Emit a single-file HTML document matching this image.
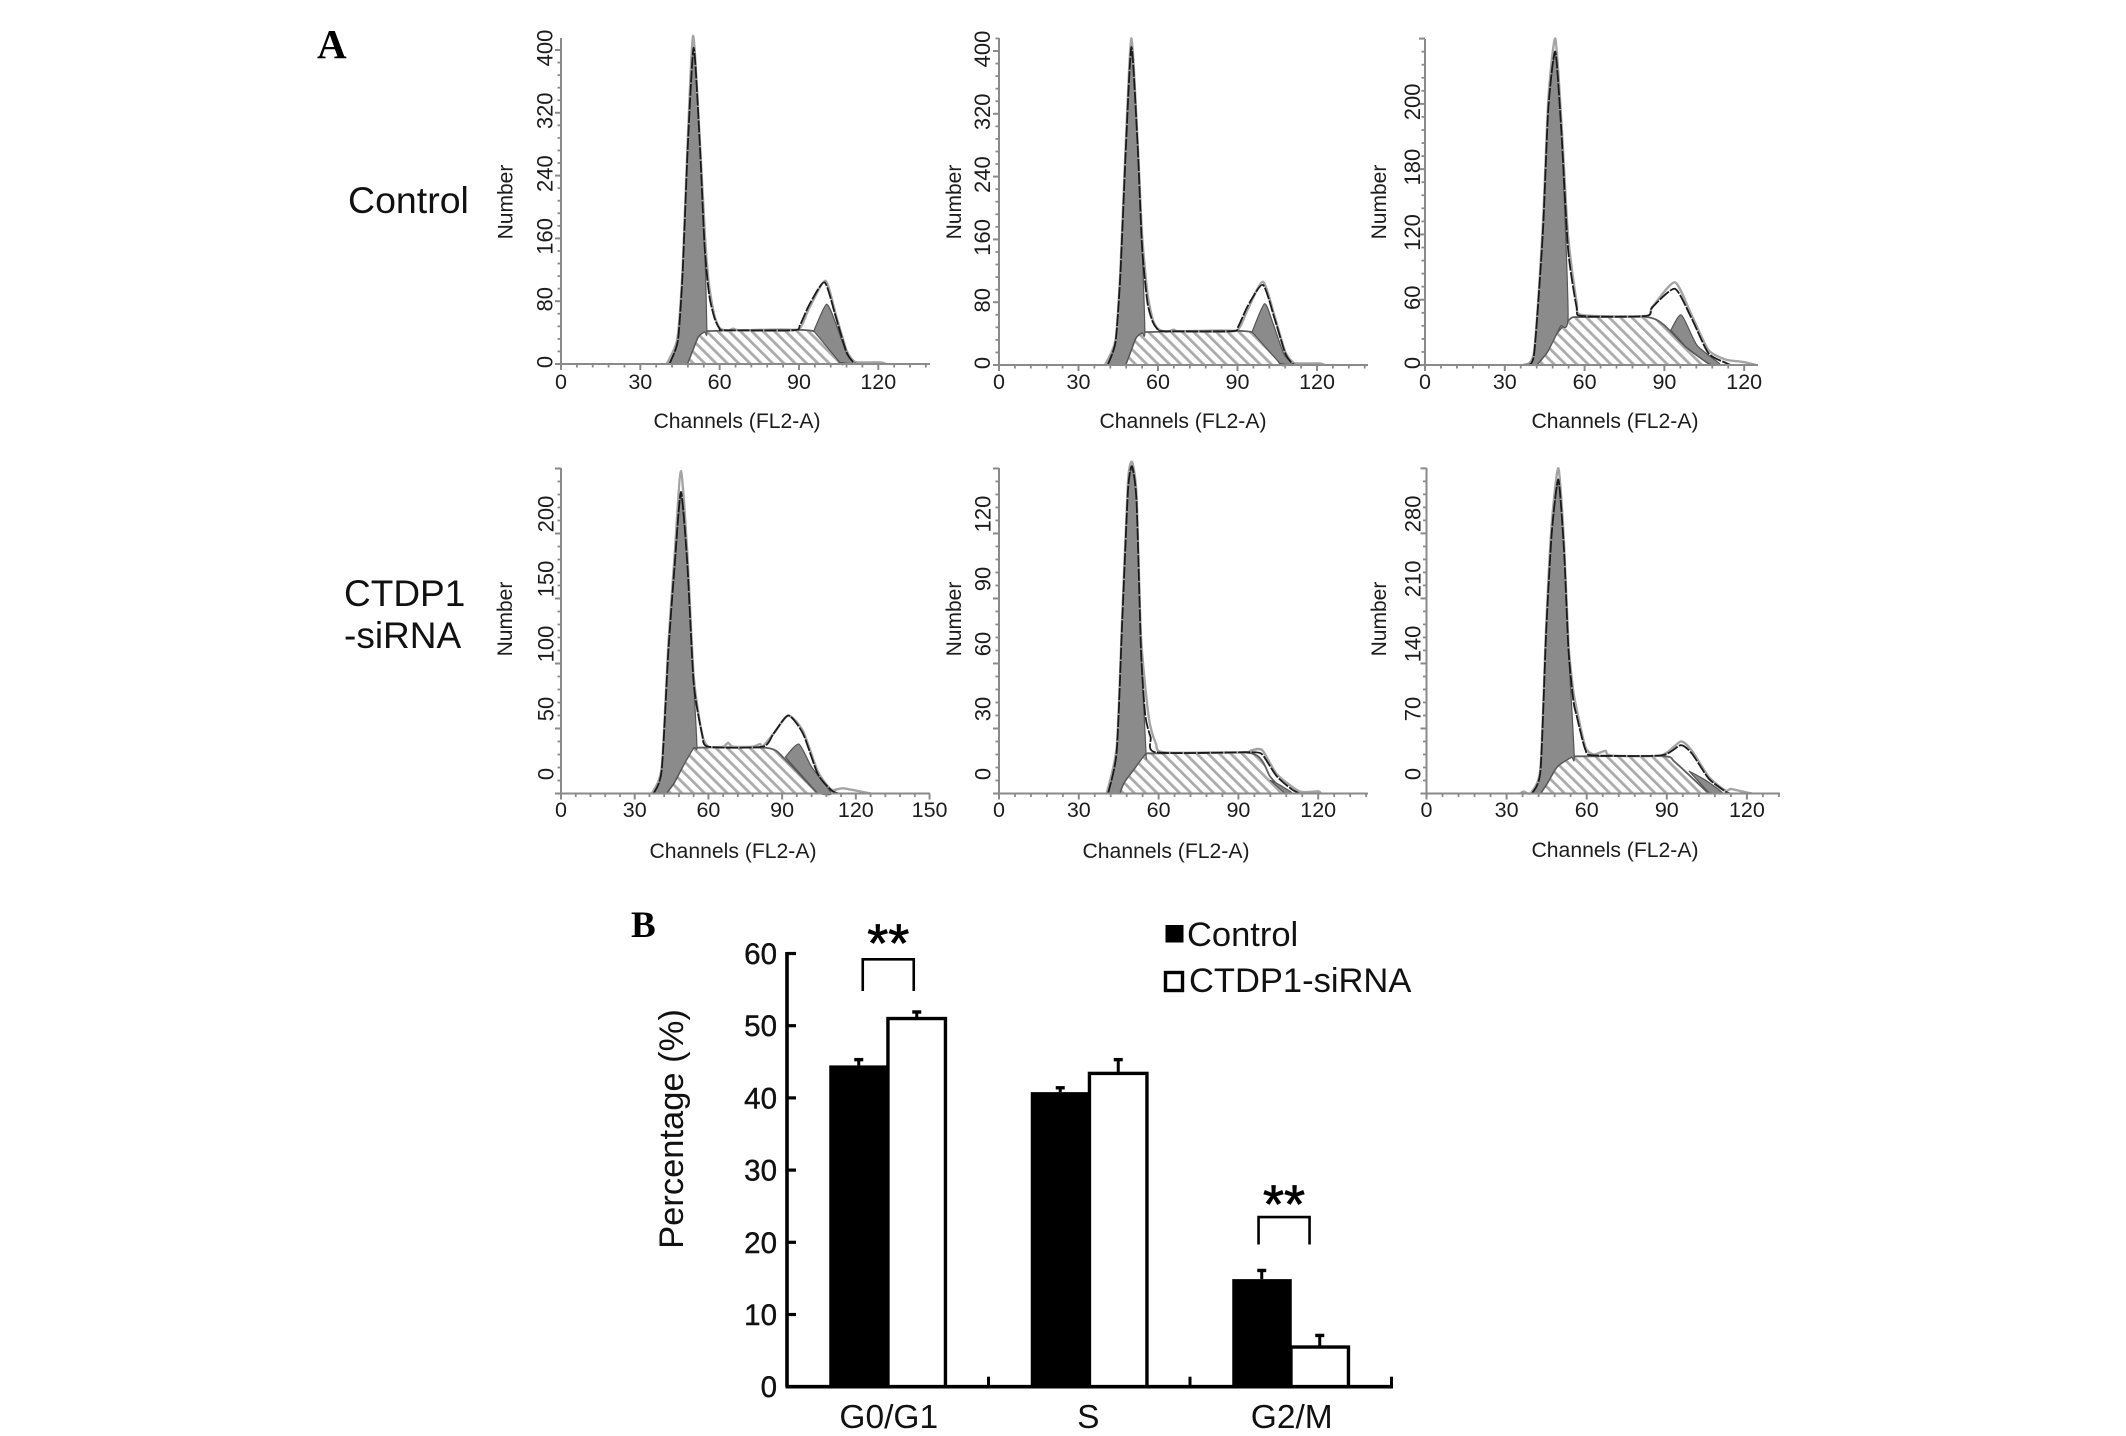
<!DOCTYPE html>
<html lang="en">
<head>
<meta charset="utf-8">
<title>Cell cycle histograms and phase percentages</title>
<style>
html,body{margin:0;padding:0;background:#fff;}
body{width:2126px;height:1436px;overflow:hidden;}
svg{display:block;font-family:"Liberation Sans",Arial,sans-serif;}
</style>
</head>
<body>
<svg id="figure" xmlns="http://www.w3.org/2000/svg" width="2126" height="1436" viewBox="0 0 2126 1436">
<defs>
<pattern id="hatch" patternUnits="userSpaceOnUse" width="8" height="8" patternTransform="rotate(-45)">
<rect width="8" height="8" fill="#fff"/>
<rect x="0" y="0" width="2.8" height="8" fill="#ababab"/>
</pattern>
</defs>
<rect width="2126" height="1436" fill="#fff"/>
<text x="317" y="58" font-family="'Liberation Serif',serif" font-weight="700" font-size="41" fill="#000">A</text>
<text x="348" y="213" font-size="37.5" fill="#111">Control</text>
<text x="344" y="606" font-size="37" fill="#111">CTDP1</text>
<text x="344" y="648" font-size="37" fill="#111">-siRNA</text>
<text x="631" y="937" font-family="'Liberation Serif',serif" font-weight="700" font-size="37" fill="#000">B</text>
<g id="histograms"></g>
<g id="bars"></g>
</svg>
<script>
// ---------- Panel A data: [channel, count] ----------
const p1XTicks = [0, 30, 60, 90, 120];
const p1YTicks = [0, 80, 160, 240, 320, 400];
const p1YLabels = ['0', '80', '160', '240', '320', '400'];
const p1G1 = [[41,0],[44.2,30],[46,115],[48,280],[50.2,403],[52.5,280],[54.3,153],[55.2,42],[54.3,41],[51.8,34],[48,2],[47,0]];
const p1S = [[47,0],[48,2],[51.8,34],[54.3,41],[56,42],[95.3,42],[105.4,2],[107,0]];
const p1G2 = [[95.6,42],[100.4,76],[104,51],[108,13],[110.5,1],[105.4,2]];
const p1Fit = [[41,0],[44.2,30],[46,115],[48,280],[50.2,403],[52.5,280],[54.3,150],[56,89],[58,59],[60,45],[62,43],[88,43],[90.3,49],[94,76],[99.7,104],[104,59],[108,15],[111,1],[114,0]];
const p1Hist = [[40,0],[44,32],[46,120],[48,290],[50,418],[52.5,285],[54.5,160],[56,100],[58,62],[60,46],[63,42],[65,45],[68,43],[88,43],[91,49],[94,72],[100,106],[104,62],[108,17],[111,3],[114,2],[121,2],[123,0]];

const p2XTicks = [0, 30, 60, 90, 120];
const p2YTicks = [0, 80, 160, 240, 320, 400];
const p2YLabels = ['0', '80', '160', '240', '320', '400'];
const p2G1 = [[41,0],[44,30],[45.8,115],[48,285],[50,405],[52.3,280],[54,150],[55,42],[54,41],[51.6,34],[48,2],[47,0]];
const p2S = [[47,0],[48,2],[51.6,34],[54,41],[56,42],[95.3,42],[106,2],[107.5,0]];
const p2G2 = [[95.5,42],[100.2,78],[103.5,52],[107.5,14],[110.8,1],[106,2]];
const p2Fit = [[41,0],[44,30],[45.8,115],[48,285],[50,405],[52.3,280],[54,150],[56,80],[58,55],[60,45],[62,43],[88,43],[90.3,49],[94,76],[99.6,102],[104,59],[108,15],[111,1],[114,0]];
const p2Hist = [[40,0],[44,32],[45.8,120],[48,295],[50,416],[52.3,285],[54,165],[56,92],[58,58],[60,46],[63,42],[66,45],[68,43],[88,43],[91,49],[94,72],[99.6,106],[104,62],[108,17],[111,3],[114,2],[121,2],[123,0]];

const p3XTicks = [0, 30, 60, 90, 120];
const p3YTicks = [0, 60, 120, 180, 240];
const p3YLabels = ['0', '60', '120', '180', '200'];
const p3G1 = [[38,0],[41,10],[44.3,121],[46.4,237],[49,286],[51.3,213],[53.8,46],[51,36],[49.6,29],[46,12],[42,0]];
const p3S = [[42,0],[46,12],[49.6,29],[54.9,43],[59,44],[83.3,44],[89.7,37],[98,16.8],[106.5,1.5],[108,0]];
const p3G2 = [[92.4,32],[96.4,46],[102.3,18],[110.8,1],[106.5,1.5],[98,16.8]];
const p3Fit = [[38,0],[41,10],[44.3,121],[46.4,237],[49,288],[51.3,213],[53.8,106],[57,53],[59,45],[83,45],[85.4,53],[93.9,70],[100,44],[106.5,11],[113,2],[115,0]];
const p3Hist = [[37,0],[41,12],[44.3,128],[46.4,245],[49,300],[51.3,222],[53.8,118],[57,58],[59,46],[83,45],[85.4,53],[93.9,76],[100,47],[106.5,14],[113,5],[119,3],[124.5,0]];

const p4XTicks = [0, 30, 60, 90, 120, 150];
const p4YTicks = [0, 50, 100, 150, 200];
const p4YLabels = ['0', '50', '100', '150', '200'];
const p4G1 = [[37.7,0],[41,18],[43.7,110],[46.2,174],[48.8,229],[51.4,177],[54,85],[55.3,36],[54,35],[48.8,18],[46,8],[42.8,0]];
const p4S = [[42.8,0],[46,8],[48.8,18],[52,30],[54,35],[84,35],[90.8,27],[104.5,0]];
const p4G2 = [[91.3,28],[96.8,38],[102,20.5],[110,0],[104.5,0]];
const p4Fit = [[37.7,0],[41,18],[43.7,110],[46.2,174],[48.8,232],[51.4,177],[54,85],[57.4,46],[60,36],[82,36],[86.5,46],[92.5,60],[98.5,46],[104.5,15],[110,2.5],[113,0]];
const p4Hist = [[37,0],[41,20],[43.7,115],[46.2,182],[48.8,248],[51.4,185],[54,90],[57.4,46],[60,36],[66,36],[68,39],[70,36],[78,36],[81,38],[82,36],[86.5,46],[92.5,60],[98.5,48],[104.5,17],[110,3],[114.8,4],[126,0]];

const p5XTicks = [0, 30, 60, 90, 120];
const p5YTicks = [0, 30, 60, 90, 120];
const p5YLabels = ['0', '30', '60', '90', '120'];
const p5G1 = [[41,0],[44.3,20],[46.4,81.5],[48.5,140],[50,150],[51.7,135],[53.4,66],[55.3,18],[54.9,18],[50.6,11],[47,5],[45.4,0]];
const p5S = [[45.4,0],[47,5],[50.6,11],[54.9,18],[59,18.5],[95,18.5],[102,7.7],[107.6,0]];
const p5G2 = [[102,6],[104,5],[110,0.5],[107.6,0]];
const p5Fit = [[41,0],[44.3,20],[46.4,81.5],[48.5,140],[50,151],[51.7,135],[53.4,66],[55,36],[57,26],[59,19],[91.8,19],[96,19],[99,18],[104.4,8],[110,2],[113,0]];
const p5Hist = [[40.5,0],[44.3,22],[46.4,84],[48.5,144],[50,153],[51.7,138],[53.4,72],[56.3,35],[59,23],[62,19],[91.8,19],[95,20],[99,20],[104.4,9],[112.9,1],[120,1],[121,0]];

const p6XTicks = [0, 30, 60, 90, 120];
const p6YTicks = [0, 70, 140, 210, 280];
const p6YLabels = ['0', '70', '140', '210', '280'];
const p6G1 = [[39.5,0],[42.7,25],[44.8,172],[46.9,280],[49.4,336],[51.5,262],[53.2,154],[55.3,41],[54.2,39],[49,29],[45,10],[42.7,0]];
const p6S = [[42.7,0],[45,10],[49,29],[54.2,39],[58,40],[88.9,40],[93,34],[105.7,0]];
const p6G2 = [[98.4,24],[104.7,14],[111,0],[105.7,1]];
const p6Fit = [[39.5,0],[42.7,25],[44.8,172],[46.9,280],[49.4,338],[51.5,262],[53.2,154],[55,100],[56.3,83],[59.5,47],[62.6,41],[87.9,41],[95.2,52],[99.4,43],[105.7,16],[112,2],[114,0]];
const p6Hist = [[35,0],[36.4,2],[38,0],[39.5,2],[42.7,28],[44.8,178],[46.9,290],[49.4,350],[51.5,270],[53.2,160],[55,110],[56.3,90],[59.5,50],[62.6,42],[67,46],[69,41],[87.9,41],[95.2,56],[99.4,46],[105.7,18],[112,3],[114,5],[120,1],[122,0]];

// ---------- Panel B data ----------
const categories = ['G0/G1', 'S', 'G2/M'];
const controlValues = [44.5, 40.8, 14.9];
const controlErrors = [0.8, 0.6, 1.2];
const sirnaValues = [51.2, 43.6, 5.7];
const sirnaErrors = [0.7, 1.7, 1.4];
const barTicks = [0, 10, 20, 30, 40, 50, 60];
const sigCategories = [0, 2];
const sigTops = [59.2, 23.5];
const sigBottoms = [54.8, 19.7];

const NS = 'http://www.w3.org/2000/svg';
function mk(tag, attrs, parent, text) {
  const e = document.createElementNS(NS, tag);
  for (const k in attrs) e.setAttribute(k, attrs[k]);
  if (text !== undefined) e.textContent = text;
  parent.appendChild(e);
  return e;
}
// Smooth path through screen points (cardinal spline, mild tension)
function spline(P, close) {
  let d = 'M' + P[0][0].toFixed(1) + ' ' + P[0][1].toFixed(1);
  const k = 0.11;
  for (let i = 0; i < P.length - 1; i++) {
    const a = P[Math.max(i - 1, 0)], b = P[i], c = P[i + 1], e = P[Math.min(i + 2, P.length - 1)];
    d += 'C' + (b[0] + (c[0] - a[0]) * k).toFixed(1) + ' ' + (b[1] + (c[1] - a[1]) * k).toFixed(1) + ' ' +
         (c[0] - (e[0] - b[0]) * k).toFixed(1) + ' ' + (c[1] - (e[1] - b[1]) * k).toFixed(1) + ' ' +
         c[0].toFixed(1) + ' ' + c[1].toFixed(1);
  }
  return d + (close ? 'Z' : '');
}

const panels = [
 {id:'control-1', xt:p1XTicks, yt:p1YTicks, yl:p1YLabels, g1:p1G1, s:p1S, g2:p1G2, fit:p1Fit, hist:p1Hist,
  x0:561, base:364, sx:2.644, sy:0.785, xEnd:930, yTop:38, labX:552.5, numX:512.5, numY:202, chX:737, chY:428, tickY:389, off:-2, ext:0},
 {id:'control-2', xt:p2XTicks, yt:p2YTicks, yl:p2YLabels, g1:p2G1, s:p2S, g2:p2G2, fit:p2Fit, hist:p2Hist,
  x0:999, base:365, sx:2.65, sy:0.785, xEnd:1368, yTop:38, labX:990, numX:961, numY:202, chX:1183, chY:428, tickY:389, off:-2, ext:0},
 {id:'control-3', xt:p3XTicks, yt:p3YTicks, yl:p3YLabels, g1:p3G1, s:p3S, g2:p3G2, fit:p3Fit, hist:p3Hist,
  x0:1425, base:365, sx:2.66, sy:1.088, xEnd:1758, yTop:39, labX:1420, numX:1386, numY:202, chX:1615, chY:428, tickY:389, off:-2, ext:0},
 {id:'sirna-1', xt:p4XTicks, yt:p4YTicks, yl:p4YLabels, g1:p4G1, s:p4S, g2:p4G2, fit:p4Fit, hist:p4Hist,
  x0:561, base:793.5, sx:2.457, sy:1.3, xEnd:930, yTop:468, labX:553.5, numX:512, numY:619, chX:733, chY:858, tickY:817, off:-19.5, ext:5.5},
 {id:'sirna-2', xt:p5XTicks, yt:p5YTicks, yl:p5YLabels, g1:p5G1, s:p5S, g2:p5G2, fit:p5Fit, hist:p5Hist,
  x0:999, base:793.5, sx:2.66, sy:2.167, xEnd:1368, yTop:468, labX:990.5, numX:961, numY:619, chX:1166, chY:858, tickY:817, off:-19.5, ext:5.5},
 {id:'sirna-3', xt:p6XTicks, yt:p6YTicks, yl:p6YLabels, g1:p6G1, s:p6S, g2:p6G2, fit:p6Fit, hist:p6Hist,
  x0:1426.5, base:793.5, sx:2.67, sy:0.929, xEnd:1780, yTop:468, labX:1420.5, numX:1386, numY:619, chX:1615, chY:857, tickY:817, off:-19.5, ext:5.5}
];

const histRoot = document.getElementById('histograms');
const AXIS = '#8a8a8a';
const INK = '#1c1c1c';

panels.forEach(function (p) {
  const X = function (c) { return p.x0 + c * p.sx; };
  const Y = function (n) { return p.base - n * p.sy; };
  const pts = function (arr) {
    return arr.map(function (d) { return [X(d[0]), Y(d[1])]; });
  };
  const g = mk('g', {}, histRoot);
  
  

  const sArea = mk('path', {d: spline(pts(p.s), true), fill: 'url(#hatch)', stroke: '#5e5e5e', 'stroke-width': 1.8, 'stroke-linejoin': 'round'}, g);
  
  

  const g1Area = mk('path', {d: spline(pts(p.g1), true), fill: '#8b8b8b', stroke: '#555', 'stroke-width': 1.2, 'stroke-linejoin': 'round'}, g);
  
  

  const g2Area = mk('path', {d: spline(pts(p.g2), true), fill: '#8b8b8b', stroke: '#555', 'stroke-width': 1.2, 'stroke-linejoin': 'round'}, g);
  
  

  const histLine = mk('path', {d: spline(pts(p.hist), false), fill: 'none', stroke: '#a4a4a4', 'stroke-width': 2.4, 'stroke-linejoin': 'round'}, g);
  
  

  const fitLine = mk('path', {d: spline(pts(p.fit), false), fill: 'none', stroke: '#1a1a1a', 'stroke-width': 1.8, 'stroke-dasharray': '12 1.5', 'stroke-linejoin': 'round'}, g);
  
  

  // axes
  const yAxis = mk('line', {x1: p.x0, x2: p.x0, y1: p.yTop, y2: p.base, stroke: AXIS, 'stroke-width': 2}, g);
  
  

  const xAxis = mk('line', {x1: p.x0 - p.ext, x2: p.xEnd, y1: p.base, y2: p.base, stroke: AXIS, 'stroke-width': 2}, g);
  
  

  // x ticks: five minor divisions per major interval
  const xStep = p.xt[1] - p.xt[0];
  for (let c = 0; X(c) <= p.xEnd + 0.5; c += xStep / 5) {
    const major = Math.abs(c / xStep - Math.round(c / xStep)) < 1e-6;
    const t = mk('line', {x1: X(c), x2: X(c), y1: p.base, y2: p.base + (major ? 6 : 3.5), stroke: AXIS, 'stroke-width': major ? 2 : 1.8}, g);
    
    
  }
  // y ticks
  const yStep = p.yt[1] - p.yt[0];
  for (let n = 0; Y(n) >= p.yTop - 0.5; n += yStep / 5) {
    const major = Math.abs(n / yStep - Math.round(n / yStep)) < 1e-6;
    const t = mk('line', {x1: p.x0 - (major ? 6 : 3.5), x2: p.x0, y1: Y(n), y2: Y(n), stroke: AXIS, 'stroke-width': major ? 2 : 1.8}, g);
    
    
  }
  // labels
  p.xt.forEach(function (c) {
    const t = mk('text', {x: X(c), y: p.tickY, 'font-size': 21.5, 'text-anchor': 'middle', fill: INK}, g, String(c));
    
    
  });
  p.yt.forEach(function (n, i) {
    const yy = Y(n) + p.off;
    const t = mk('text', {x: p.labX, y: yy, 'font-size': 22, 'text-anchor': 'middle', fill: INK, transform: 'rotate(-90 ' + p.labX + ' ' + yy + ')'}, g, p.yl[i]);
    
    
  });
  const nt = mk('text', {x: p.numX, y: p.numY, 'font-size': 21, 'text-anchor': 'middle', fill: INK, transform: 'rotate(-90 ' + p.numX + ' ' + p.numY + ')'}, g, 'Number');
  
  

  const ct = mk('text', {x: p.chX, y: p.chY, 'font-size': 21.5, 'text-anchor': 'middle', fill: INK, textLength: 167, lengthAdjust: 'spacingAndGlyphs'}, g, 'Channels (FL2-A)');
  
  
});

// ---------- Panel B ----------
const barRoot = document.getElementById('bars');
const axisLeft = 787, axisRight = 1391.5, zeroY = 1386.7, unitPx = 7.22;
const band = (axisRight - axisLeft) / categories.length;
const barY = function (v) { return zeroY - v * unitPx; };
const barC = function (i) { return axisLeft + band * (i + 0.5); };

function errorBar(cx, value, err, label) {
  const top = barY(value + err);
  const stem = mk('line', {x1: cx, x2: cx, y1: barY(value), y2: top, stroke: '#000', 'stroke-width': 3}, barRoot);
  
  
  const cap = mk('line', {x1: cx - 4.5, x2: cx + 4.5, y1: top, y2: top, stroke: '#000', 'stroke-width': 3.4}, barRoot);
  
  
}

categories.forEach(function (cat, i) {
  const c = barC(i);
  const slug = cat.toLowerCase().replace('/', '-');
  errorBar(c - 29, controlValues[i], controlErrors[i], 'control-' + slug);
  errorBar(c + 29, sirnaValues[i], sirnaErrors[i], 'sirna-' + slug);

  const wb = mk('rect', {x: c + 0.2, y: barY(sirnaValues[i]) + 1.5, width: 57.5, height: zeroY - barY(sirnaValues[i]) - 1.5, fill: '#fff', stroke: '#000', 'stroke-width': 3.4}, barRoot);
  
  

  const bb = mk('rect', {x: c - 58.5, y: barY(controlValues[i]), width: 59.5, height: zeroY - barY(controlValues[i]), fill: '#000'}, barRoot);
  
  

  const lab = mk('text', {x: c + (i === 1 ? -1 : 1), y: 1428, 'font-size': 33.5, 'text-anchor': 'middle', fill: '#111'}, barRoot, cat);
  
  

  const t = mk('line', {x1: axisLeft + band * (i + 1), x2: axisLeft + band * (i + 1), y1: zeroY, y2: zeroY - 10, stroke: '#000', 'stroke-width': 3}, barRoot);
  
  
});

const bxAxis = mk('line', {x1: axisLeft - 1.5, x2: axisRight + 1.5, y1: zeroY, y2: zeroY, stroke: '#000', 'stroke-width': 3.6}, barRoot);



const byAxis = mk('line', {x1: axisLeft, x2: axisLeft, y1: barY(60) - 1.5, y2: zeroY, stroke: '#000', 'stroke-width': 3.6}, barRoot);



barTicks.forEach(function (v) {
  const t = mk('line', {x1: axisLeft, x2: axisLeft + 9, y1: barY(v), y2: barY(v), stroke: '#000', 'stroke-width': 3.2}, barRoot);
  
  
  const l = mk('text', {x: 777, y: barY(v) + 10.5, 'font-size': 29.5, 'text-anchor': 'end', fill: '#111', stroke: '#111', 'stroke-width': 0.4}, barRoot, String(v));
  
  
});

const yTitle = mk('text', {x: 683, y: 1129, 'font-size': 34.5, 'text-anchor': 'middle', fill: '#111', transform: 'rotate(-90 683 1129)'}, barRoot, 'Percentage (%)');



sigCategories.forEach(function (cat, i) {
  const c = barC(cat) + (cat === 0 ? 0.5 : -6.7);
  const yt = barY(sigTops[i]), yb = barY(sigBottoms[i]);
  const br = mk('polyline', {points: (c - 25.5) + ',' + yb + ' ' + (c - 25.5) + ',' + yt + ' ' + (c + 25.5) + ',' + yt + ' ' + (c + 25.5) + ',' + yb, fill: 'none', stroke: '#000', 'stroke-width': 2.6}, barRoot);
  
  
  const st = mk('text', {x: c, y: yt + (cat === 0 ? 2 : 5.5), 'font-size': 54, 'text-anchor': 'middle', fill: '#000', stroke: '#000', 'stroke-width': 0.8}, barRoot, '**');
  
  
});

const lg1 = mk('rect', {x: 1165.5, y: 925, width: 18, height: 17.5, fill: '#000'}, barRoot);



const lt1 = mk('text', {x: 1187, y: 946, 'font-size': 34.5, fill: '#111'}, barRoot, 'Control');



const lg2 = mk('rect', {x: 1165.5, y: 972.5, width: 17, height: 18, fill: '#fff', stroke: '#000', 'stroke-width': 3.4}, barRoot);



const lt2 = mk('text', {x: 1189, y: 992, 'font-size': 34.5, fill: '#111'}, barRoot, 'CTDP1-siRNA');


</script>
</body>
</html>
